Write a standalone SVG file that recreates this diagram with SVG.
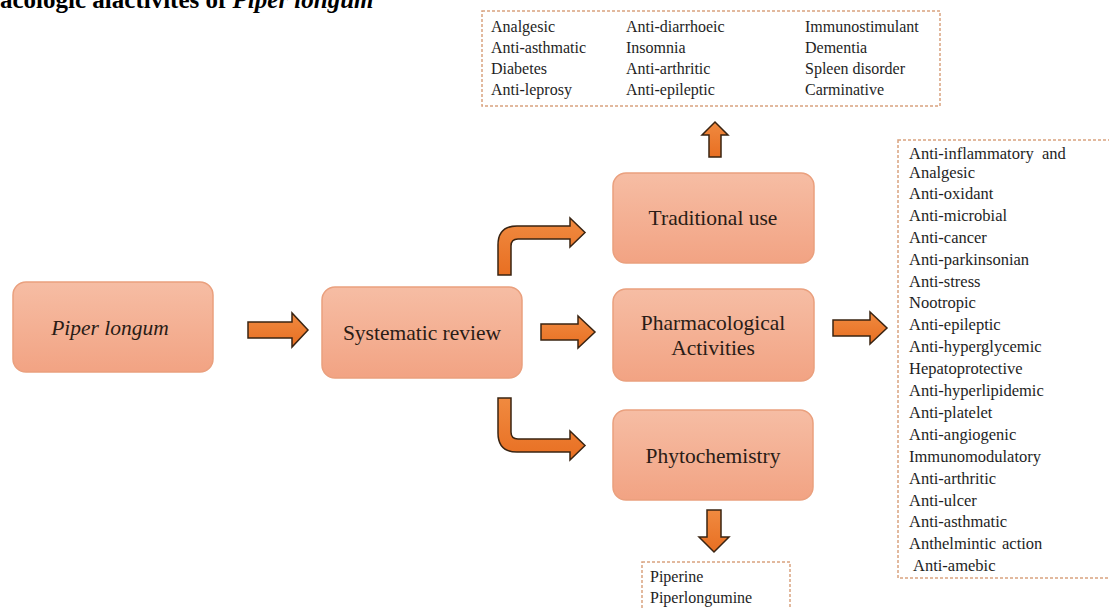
<svg xmlns="http://www.w3.org/2000/svg" width="1109" height="609" viewBox="0 0 1109 609">
<defs>
<linearGradient id="boxg" x1="0" y1="0" x2="0" y2="1">
<stop offset="0" stop-color="#f6bda4"/>
<stop offset="1" stop-color="#f2a383"/>
</linearGradient>
<linearGradient id="arrg" x1="0" y1="0" x2="0" y2="1">
<stop offset="0" stop-color="#f08a40"/>
<stop offset="1" stop-color="#e86f22"/>
</linearGradient>
<style>
.box{fill:url(#boxg);stroke:#eaa07e;stroke-width:1.5}
.lbl{font-family:"Liberation Serif","Times New Roman",serif;font-size:21.5px;fill:#2a1c16;text-anchor:middle}
.arr{fill:url(#arrg);stroke:#3a2412;stroke-width:1.5;stroke-linejoin:miter}
.dash{fill:#ffffff;stroke:#d9a27f;stroke-width:1.5;stroke-dasharray:3 2}
.lst{font-family:"Liberation Serif","Times New Roman",serif;font-size:16px;fill:#1e1e1e}
.rl{font-family:"Liberation Serif","Times New Roman",serif;font-size:16.5px;fill:#1e1e1e}
</style>
</defs>
<rect width="1109" height="609" fill="#ffffff"/>
<text x="0" y="8" font-family="'Liberation Serif','Times New Roman',serif" font-size="25" font-weight="bold" fill="#000">acologic alactivites of <tspan font-style="italic">Piper longum</tspan></text>

<g id="traditional-list">
<rect class="dash" x="482" y="11" width="458" height="95"/>
<text class="lst" x="491" y="32">Analgesic</text>
<text class="lst" x="491" y="53">Anti-asthmatic</text>
<text class="lst" x="491" y="74">Diabetes</text>
<text class="lst" x="491" y="95">Anti-leprosy</text>
<text class="lst" x="626" y="32">Anti-diarrhoeic</text>
<text class="lst" x="626" y="53">Insomnia</text>
<text class="lst" x="626" y="74">Anti-arthritic</text>
<text class="lst" x="626" y="95">Anti-epileptic</text>
<text class="lst" x="805" y="32">Immunostimulant</text>
<text class="lst" x="805" y="53">Dementia</text>
<text class="lst" x="805" y="74">Spleen disorder</text>
<text class="lst" x="805" y="95">Carminative</text>
</g>

<g id="pharm-list">
<rect class="dash" x="898" y="140" width="216" height="438"/>
<text class="rl" x="909" y="159">Anti-inflammatory<tspan x="1042">and</tspan></text>
<text class="rl" x="909" y="178">Analgesic</text>
<text class="rl" x="909" y="199">Anti-oxidant</text>
<text class="rl" x="909" y="221">Anti-microbial</text>
<text class="rl" x="909" y="243">Anti-cancer</text>
<text class="rl" x="909" y="265">Anti-parkinsonian</text>
<text class="rl" x="909" y="287">Anti-stress</text>
<text class="rl" x="909" y="308">Nootropic</text>
<text class="rl" x="909" y="330">Anti-epileptic</text>
<text class="rl" x="909" y="352">Anti-hyperglycemic</text>
<text class="rl" x="909" y="374">Hepatoprotective</text>
<text class="rl" x="909" y="396">Anti-hyperlipidemic</text>
<text class="rl" x="909" y="418">Anti-platelet</text>
<text class="rl" x="909" y="440">Anti-angiogenic</text>
<text class="rl" x="909" y="462">Immunomodulatory</text>
<text class="rl" x="909" y="484">Anti-arthritic</text>
<text class="rl" x="909" y="506">Anti-ulcer</text>
<text class="rl" x="909" y="527">Anti-asthmatic</text>
<text class="rl" x="909" y="549">Anthelmintic<tspan x="1002">action</tspan></text>
<text class="rl" x="913" y="571">Anti-amebic</text>
</g>

<g id="phyto-list">
<rect class="dash" x="642" y="562" width="148" height="60"/>
<text class="lst" x="650" y="582">Piperine</text>
<text class="lst" x="650" y="603">Piperlongumine</text>
</g>

<g id="piper-longum">
<rect class="box" x="13" y="282" width="200" height="90" rx="13"/>
<text class="lbl" x="110" y="335" font-style="italic">Piper longum</text>
</g>
<g id="systematic-review">
<rect class="box" x="322" y="287" width="200" height="91" rx="13"/>
<text class="lbl" x="422" y="340">Systematic review</text>
</g>
<g id="traditional-use">
<rect class="box" x="613" y="173" width="201" height="90" rx="13"/>
<text class="lbl" x="713" y="225">Traditional use</text>
</g>
<g id="pharmacological-activities">
<rect class="box" x="613" y="289" width="201" height="92" rx="13"/>
<text class="lbl" x="713" y="330">Pharmacological</text>
<text class="lbl" x="713" y="355">Activities</text>
</g>
<g id="phytochemistry">
<rect class="box" x="613" y="410" width="200" height="90" rx="13"/>
<text class="lbl" x="713" y="463">Phytochemistry</text>
</g>

<g id="connectors">
<path class="arr" d="M248,322 L292,322 L292,313 L308,330 L292,347 L292,338 L248,338 Z"/>
<path class="arr" d="M541,324 L578,324 L578,316 L595,332 L578,348 L578,340 L541,340 Z"/>
<path class="arr" d="M833,320 L870,320 L870,312 L887,328 L870,344 L870,336 L833,336 Z"/>
<path class="arr" d="M498,275 L498,245 Q498,226 517,226 L570,226 L570,218 L585,232.5 L570,247 L570,239 L518,239 Q511,239 511,246 L511,275 Z"/>
<path class="arr" d="M498,398 L511,398 L511,432 Q511,439 518,439 L570,439 L570,431 L585,445.5 L570,460 L570,452 L517,452 Q498,452 498,433 Z"/>
<path class="arr" d="M709,157 L709,135 L702,135 L715,122 L728,135 L721,135 L721,157 Z"/>
<path class="arr" d="M707,510 L721,510 L721,537 L729,537 L714,552 L699,537 L707,537 Z"/>
</g>
</svg>
